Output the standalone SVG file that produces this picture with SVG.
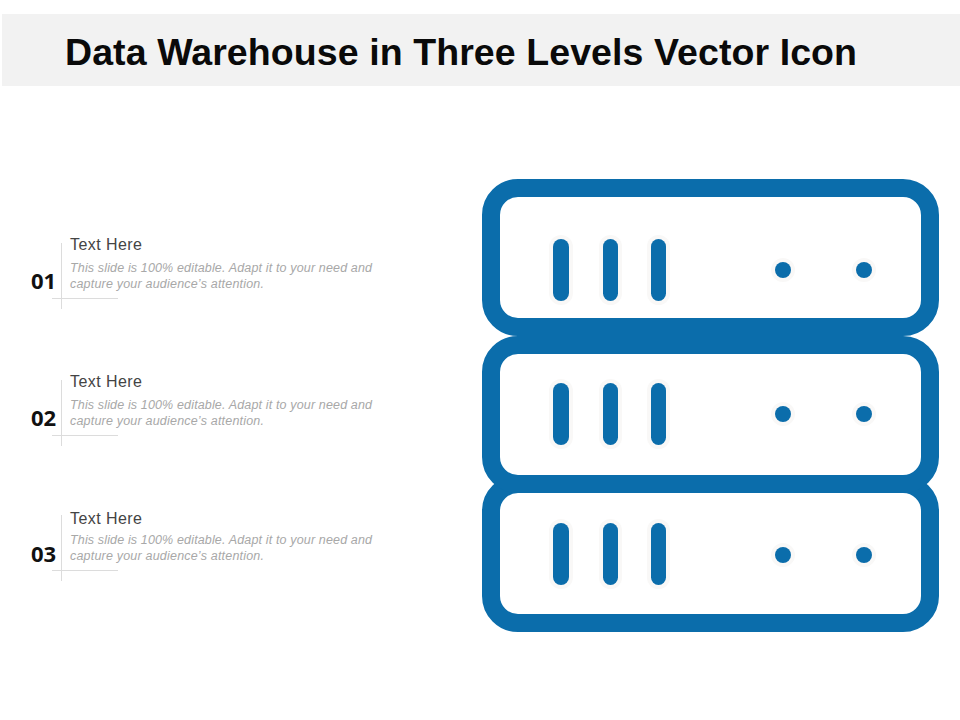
<svg xmlns="http://www.w3.org/2000/svg" width="960" height="720" viewBox="0 0 960 720">
<style>
.title{font-family:"Liberation Sans",Arial,sans-serif;font-weight:700;font-size:37.500px;fill:#0a0a0a}
.num{font-family:"Open Sans","Liberation Sans",sans-serif;font-weight:700;font-size:22px;fill:#111}
.head{font-family:"Liberation Sans",Arial,sans-serif;font-size:16px;fill:#444}
.desc{font-family:"Liberation Sans",Arial,sans-serif;font-style:italic;font-size:12.500px;fill:#a8a8a8}
.rule{stroke:#dcdcdc;stroke-width:1;fill:none}
.box{fill:#fff;stroke:#0b6dab;stroke-width:18}
.bar{fill:#0b6dab;stroke:#f9f8f7;stroke-width:8;paint-order:stroke}
</style>
<rect x="2" y="14" width="958" height="72" fill="#f2f2f2"/>
<text class="title" x="65" y="65" textLength="792" lengthAdjust="spacing">Data Warehouse in Three Levels Vector Icon</text>
<g id="item-1">
<path class="rule" d="M61.500 243V309M52 298.500H118"/>
<text class="num" x="31" y="289">01</text>
<text class="head" x="70" y="250" textLength="72">Text Here</text>
<text class="desc" x="70" y="272" textLength="302" lengthAdjust="spacing">This slide is 100% editable. Adapt it to your need and</text>
<text class="desc" x="70" y="288" textLength="194" lengthAdjust="spacing">capture your audience’s attention.</text>
</g>
<g id="item-2">
<path class="rule" d="M61.500 380V446M52 435.500H118"/>
<text class="num" x="31" y="426">02</text>
<text class="head" x="70" y="387" textLength="72">Text Here</text>
<text class="desc" x="70" y="409" textLength="302" lengthAdjust="spacing">This slide is 100% editable. Adapt it to your need and</text>
<text class="desc" x="70" y="425" textLength="194" lengthAdjust="spacing">capture your audience’s attention.</text>
</g>
<g id="item-3">
<path class="rule" d="M61.500 515V581M52 570.500H118"/>
<text class="num" x="31" y="562">03</text>
<text class="head" x="70" y="524" textLength="72">Text Here</text>
<text class="desc" x="70" y="544" textLength="302" lengthAdjust="spacing">This slide is 100% editable. Adapt it to your need and</text>
<text class="desc" x="70" y="560" textLength="194" lengthAdjust="spacing">capture your audience’s attention.</text>
</g>
<g id="server-3">
<rect class="box" x="491" y="484" width="439" height="139" rx="27"/>
<rect class="bar" x="553" y="523" width="16" height="62" rx="8"/>
<rect class="bar" x="603" y="523" width="15" height="62" rx="7.500"/>
<rect class="bar" x="651" y="523" width="15" height="62" rx="7.500"/>
<circle class="bar" cx="783" cy="555" r="8"/>
<circle class="bar" cx="864" cy="555" r="8"/>
</g>
<g id="server-2">
<rect class="box" x="491" y="345" width="439" height="139" rx="27"/>
<rect class="bar" x="553" y="383" width="16" height="62" rx="8"/>
<rect class="bar" x="603" y="383" width="15" height="62" rx="7.500"/>
<rect class="bar" x="651" y="383" width="15" height="62" rx="7.500"/>
<circle class="bar" cx="783" cy="414" r="8"/>
<circle class="bar" cx="864" cy="414" r="8"/>
</g>
<g id="server-1">
<rect class="box" x="491" y="188" width="439" height="139" rx="27"/>
<rect class="bar" x="553" y="239" width="16" height="62" rx="8"/>
<rect class="bar" x="603" y="239" width="15" height="62" rx="7.500"/>
<rect class="bar" x="651" y="239" width="15" height="62" rx="7.500"/>
<circle class="bar" cx="783" cy="270" r="8"/>
<circle class="bar" cx="864" cy="270" r="8"/>
</g>
<g id="connectors"></g>
</svg>
